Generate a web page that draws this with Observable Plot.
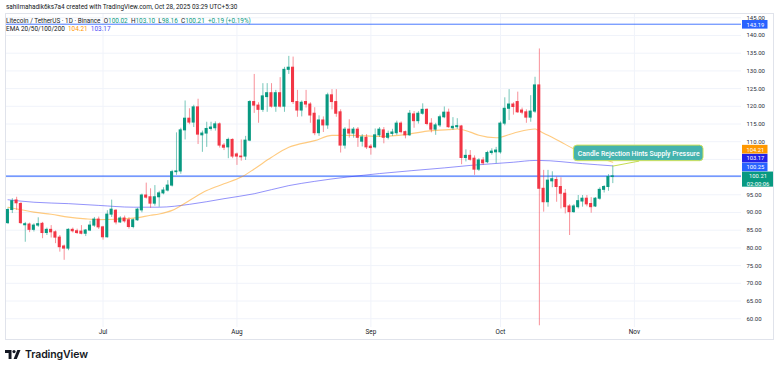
<!DOCTYPE html>
<html><head><meta charset="utf-8">
<script src="https://cdn.jsdelivr.net/npm/d3@7"></script>
<script src="https://cdn.jsdelivr.net/npm/@observablehq/plot@0.6"></script>
<style>
body{margin:0;background:#fff;}
#wrap{position:relative;width:780px;height:370px;overflow:hidden;font-family:Roboto,"Noto Sans",sans-serif;}
#wrap svg.plot{position:absolute;left:0;top:0;}
.t{position:absolute;white-space:pre;color:#131722;font-size:6.4px;line-height:1;}
#border{position:absolute;left:5px;top:13px;width:767px;height:325px;border:1px solid #e0e3eb;}
</style></head><body><div id="wrap"><div id="border"></div></div>
<script>
// ---------- data ----------
const startDate = "2025-06-09";
const open = [
 87.0, 90.7, 93.4, 92.4, 86.4, 86.6, 85.1, 86.3, 86.8, 84.2,
 85.1, 84.4, 82.9, 80.4, 79.8, 85.1, 84.7, 84.6, 84.0, 84.9,
 86.3, 88.0, 85.8, 83.0, 89.4, 90.5, 87.2, 88.3, 87.8, 85.9,
 87.8, 90.6, 94.8, 94.3, 92.5, 94.3, 95.4, 96.2, 97.6, 101.4,
 101.6, 113.2, 116.5, 115.4, 119.7, 111.8, 112.3, 113.6, 113.8, 114.9,
 108.9, 108.4, 110.5, 106.4, 105.8, 105.8, 110.3, 121.2, 120.2, 119.0,
 122.6, 123.7, 119.9, 123.7, 119.9, 130.3, 130.9, 121.2, 118.8, 121.2,
 120.5, 117.9, 112.4, 116.0, 114.6, 123.1, 121.2, 118.3, 108.9, 113.4,
 112.3, 113.4, 110.0, 111.1, 108.6, 108.4, 111.8, 113.2, 111.1, 112.2,
 112.4, 115.1, 112.7, 111.8, 117.7, 115.8, 117.9, 119.0, 115.1, 113.4,
 114.6, 116.9, 118.2, 113.8, 114.1, 114.3, 105.4, 106.0, 105.2, 102.1,
 104.7, 104.2, 106.8, 107.0, 107.0, 115.1, 119.3, 120.5, 121.2, 118.8,
 118.3, 116.8, 118.5, 125.9, 96.7, 92.9, 98.8, 99.2, 97.2, 95.3,
 91.7, 90.1, 91.5, 93.1, 93.9, 92.4, 91.7, 93.9, 96.4, 97.2,
 100.02];
const high = [
 91.2, 93.9, 94.3, 92.8, 87.2, 87.0, 86.8, 88.5, 87.2, 85.6,
 86.3, 84.8, 83.5, 80.8, 85.4, 85.6, 85.3, 86.3, 85.2, 87.5,
 88.6, 88.7, 86.1, 90.5, 93.5, 90.8, 88.8, 89.0, 88.5, 88.2,
 91.2, 95.2, 98.3, 96.7, 97.6, 96.0, 97.0, 99.0, 101.9, 112.5,
 113.8, 121.5, 119.3, 120.3, 122.0, 113.0, 115.5, 115.5, 115.6, 115.3,
 109.5, 111.0, 110.8, 106.8, 110.5, 111.5, 121.6, 129.0, 121.0, 126.4,
 126.4, 126.4, 124.5, 128.1, 131.0, 134.1, 133.9, 124.5, 121.5, 124.5,
 121.0, 119.6, 117.3, 117.0, 123.7, 124.7, 124.7, 119.0, 114.0, 116.2,
 114.0, 114.0, 112.0, 112.0, 109.2, 113.6, 114.0, 114.0, 113.0, 113.5,
 115.8, 115.6, 113.0, 118.8, 118.5, 118.5, 120.7, 119.3, 116.5, 115.2,
 117.5, 119.8, 119.2, 116.8, 116.5, 114.6, 107.7, 107.5, 106.0, 105.2,
 105.5, 107.3, 108.0, 108.4, 115.6, 122.4, 124.7, 121.0, 124.0, 119.5,
 119.0, 123.0, 128.2, 136.2, 101.9, 101.9, 101.5, 100.0, 99.8, 96.5,
 92.2, 92.2, 94.8, 94.8, 94.8, 94.2, 94.2, 97.0, 97.6, 100.7,
 103.10];
const low = [
 86.6, 89.7, 90.6, 86.6, 81.6, 84.3, 84.5, 85.8, 82.6, 83.5,
 82.8, 81.2, 78.8, 76.5, 79.2, 84.2, 83.8, 83.7, 83.2, 84.6,
 85.8, 85.2, 82.2, 82.8, 88.6, 86.5, 86.9, 87.0, 85.3, 85.4,
 87.5, 89.9, 93.8, 91.2, 91.8, 91.5, 95.0, 95.8, 97.2, 100.5,
 100.8, 110.5, 114.8, 114.0, 109.2, 107.0, 108.4, 113.0, 113.0, 108.2,
 107.5, 105.2, 105.2, 103.3, 104.5, 104.7, 110.0, 118.0, 115.2, 118.3,
 118.3, 119.5, 118.3, 119.5, 118.3, 129.0, 120.5, 116.9, 117.0, 119.5,
 115.2, 111.7, 111.5, 112.6, 113.5, 119.0, 116.9, 106.8, 107.9, 111.0,
 111.0, 108.4, 108.5, 107.8, 106.2, 108.0, 111.2, 109.4, 110.5, 111.5,
 111.8, 112.2, 110.8, 111.5, 113.8, 115.0, 117.5, 114.5, 112.5, 111.8,
 114.0, 116.5, 113.8, 113.2, 113.5, 103.5, 104.3, 104.5, 100.5, 101.6,
 103.3, 103.8, 106.2, 103.8, 106.5, 114.5, 116.0, 117.5, 118.0, 117.6,
 115.2, 115.5, 118.0, 58.0, 90.1, 91.5, 97.0, 92.9, 91.0, 89.6,
 83.5, 89.8, 91.0, 91.5, 91.6, 89.8, 91.4, 93.5, 95.5, 96.0,
 98.16];
const close = [
 90.7, 93.2, 92.6, 87.0, 86.7, 85.1, 86.3, 86.7, 84.2, 85.1,
 84.4, 82.9, 80.2, 79.8, 85.1, 84.7, 84.2, 84.0, 84.9, 86.3,
 88.0, 85.8, 83.0, 89.4, 90.8, 87.2, 88.3, 87.5, 85.9, 87.8,
 90.8, 94.8, 94.2, 92.5, 94.3, 95.4, 96.2, 97.6, 101.4, 101.6,
 113.2, 116.5, 115.4, 119.7, 112.0, 112.3, 113.6, 114.0, 114.9, 108.9,
 108.3, 110.5, 105.8, 105.8, 105.6, 110.3, 121.2, 120.2, 119.0, 122.8,
 123.7, 119.9, 123.7, 119.9, 130.3, 130.9, 121.2, 118.8, 121.0, 120.5,
 117.4, 112.4, 116.0, 114.6, 123.1, 121.2, 117.9, 108.9, 113.4, 112.3,
 113.4, 111.1, 111.2, 108.4, 108.2, 111.8, 113.4, 111.1, 112.2, 112.6,
 115.1, 112.7, 111.8, 117.9, 115.8, 117.9, 119.0, 115.0, 113.4, 114.6,
 116.9, 118.2, 114.1, 114.2, 114.4, 105.4, 106.0, 104.9, 102.1, 104.7,
 103.9, 106.8, 107.2, 107.5, 115.1, 119.3, 120.5, 119.8, 118.3, 118.2,
 116.8, 118.5, 125.9, 96.7, 92.9, 99.0, 99.4, 97.2, 95.3, 91.5,
 90.1, 91.7, 93.2, 93.9, 92.3, 91.5, 93.9, 96.4, 97.2, 100.02,
 100.21];

const emaFastDates = ["2025-06-09","2025-06-12","2025-06-15","2025-06-19","2025-06-23","2025-06-27","2025-06-30","2025-07-04","2025-07-08","2025-07-12","2025-07-14","2025-07-17","2025-07-21","2025-07-25","2025-07-29","2025-08-02","2025-08-05","2025-08-09","2025-08-13","2025-08-19","2025-08-23","2025-08-28","2025-09-03","2025-09-09","2025-09-14","2025-09-19","2025-09-21","2025-09-24","2025-09-26","2025-09-30","2025-10-04","2025-10-09","2025-10-10","2025-10-12","2025-10-15","2025-10-18","2025-10-22","2025-10-27"];
const emaFastValues = [91.5,90.8,90.1,89.5,88.7,88.2,88.0,88.1,88.4,89.2,89.6,90.6,93.4,96.2,98.1,100.0,102.3,105.6,108.4,110.3,111.8,111.8,111.5,112.0,113.0,113.4,113.6,112.7,111.8,111.1,112.4,113.6,113.0,111.8,109.9,108.0,106.3,104.21];
const emaSlowDates = ["2025-06-09","2025-06-15","2025-06-23","2025-06-30","2025-07-08","2025-07-14","2025-07-21","2025-07-29","2025-08-05","2025-08-13","2025-08-19","2025-09-03","2025-09-18","2025-09-24","2025-10-04","2025-10-09","2025-10-10","2025-10-20","2025-10-27"];
const emaSlowValues = [93.6,92.9,92.5,92.0,91.5,91.5,92.3,93.9,95.3,97.6,98.8,101.0,102.6,103.3,104.2,104.7,104.7,103.8,103.17];

const priceTicks = [60,65,70,75,80,85,90,95,100,105,110,115,120,125,130,135,140,145];
const monthTicks = ["2025-07-01","2025-08-01","2025-09-01","2025-10-01","2025-11-01"];
const monthLabels = ["Jul","Aug","Sep","Oct","Nov"];
const hLines = [143.19, 100.25];
const countdown = "02:00:06";
const annoText = "Candle Rejection Hints Supply Pressure";
const annoBox = {x1:"2025-10-18", x2:"2025-11-17", y1:104.5, y2:108.9, cx:"2025-11-02", cy:106.7};
const annoPointer = [{date:"2025-10-27", v:103.1},{date:"2025-11-02", v:104.5}];

// ---------- build ----------
const UP = "#089981", DOWN = "#f23645", ORANGE = "#ff9800", PURPLE = "#3b3bf5", BLUE = "#2962ff";
const d0 = new Date(startDate);
const dates = d3.utcDay.range(d0, d3.utcDay.offset(d0, open.length));
const candles = dates.map((d,i)=>({date:d,o:open[i],h:high[i],l:low[i],c:close[i],col: close[i]>=open[i]?UP:DOWN}));
const emaFast = emaFastDates.map((d,i)=>({date:new Date(d), v:emaFastValues[i]}));
const emaSlow = emaSlowDates.map((d,i)=>({date:new Date(d), v:emaSlowValues[i]}));
const months = monthTicks.map(d=>new Date(d));
const last = candles[candles.length-1];

const xs = d3.scaleUtc([dates[0], dates[dates.length-1]], [7.5, 612.3]);
const ys = d3.scaleLinear([60,145],[318.2,17.3]);

// price labels stacked from the bottom upward
const H = 8.6, FS = 5.8, GAP2 = 7.3;
const lbl = [
  {v:last.c, fill:UP, text:last.c.toFixed(2), two:true},
  {v:hLines[1], fill:BLUE, text:hLines[1].toFixed(2)},
  {v:emaSlowValues[emaSlowValues.length-1], fill:"#2323e8", text:emaSlowValues[emaSlowValues.length-1].toFixed(2)},
  {v:emaFastValues[emaFastValues.length-1], fill:ORANGE, text:emaFastValues[emaFastValues.length-1].toFixed(2)},
];
let prevTop = Infinity;
for (const L of lbl) {
  let cy = Math.min(ys(L.v), prevTop - H/2 - 0.3);
  L.cy = cy; L.top = cy - H/2; L.bot = L.two ? cy + H/2 + GAP2 - 0.8 : cy + H/2;
  prevTop = L.top;
}
lbl.push({v:hLines[0], fill:BLUE, text:hLines[0].toFixed(2), cy:ys(hLines[0])+0.6, top:ys(hLines[0])-H/2+0.6, bot:ys(hLines[0])+H/2+0.6});
// tick labels hidden behind a price label, as on the source chart
const shownTicks = priceTicks.filter(t => !lbl.some(L => ys(t) > L.top - 1 && ys(t) < L.bot + 1));
const lx1 = xs.invert(742), lx2 = xs.invert(767.5), lx2b = xs.invert(773), lxt = xs.invert(754.8), lxt2 = xs.invert(757.5);

const chart = Plot.plot({
  width: 780, height: 370,
  marginLeft: 5.5, marginRight: 39, marginTop: 13, marginBottom: 43,
  style: {background:"transparent", overflow:"visible", fontFamily:"Roboto, 'Noto Sans', sans-serif"},
  x: {type:"utc", domain: xs.domain(), range: xs.range(), axis: null},
  y: {type:"linear", domain: ys.domain(), range: ys.range(), axis: null},
  color: {type:"identity"},
  marks: [
    Plot.ruleY(priceTicks, {stroke:"#f0f3fa", strokeWidth:1}),
    Plot.ruleX(months, {stroke:"#f0f3fa", strokeWidth:1}),
    Plot.ruleY(hLines, {stroke:BLUE, strokeWidth:(d,i)=> i===0?1:1.3, strokeOpacity:0.85}),
    Plot.line(emaSlow, {x:"date", y:"v", stroke:PURPLE, strokeOpacity:0.55, strokeWidth:1, curve:"monotone-x"}),
    Plot.line(emaFast, {x:"date", y:"v", stroke:ORANGE, strokeOpacity:0.5, strokeWidth:1.1, curve:"monotone-x"}),
    Plot.ruleX(candles, {x:"date", y1:"l", y2:"h", stroke:"col", strokeOpacity:0.55, strokeWidth:1}),
    Plot.rect(candles, {x1:d=>d3.utcHour.offset(d.date,-8.5), x2:d=>d3.utcHour.offset(d.date,8.5), y1:"o", y2:"c", fill:"col", insetTop:-0.5, insetBottom:-0.5}),
    // annotation
    Plot.line(annoPointer, {x:d=>new Date(d.date), y:"v", stroke:"#c5dc4f", strokeWidth:1}),
    Plot.rect([annoBox], {x1:d=>new Date(d.x1), x2:d=>new Date(d.x2), y1:"y1", y2:"y2", fill:"#45b3ae", stroke:"#d2e35a", strokeWidth:1, rx:3.5}),
    Plot.text([annoBox], {x:d=>new Date(d.cx), y:"cy", text:()=>annoText, fill:"white", fontSize:6.9, fontWeight:500}),
    // axes
    Plot.text(shownTicks, {y:d=>d, text:d=>d.toFixed(2), frameAnchor:"right", dx:5, textAnchor:"start", fontSize:6.0, fill:"#2a2e39"}),
    Plot.text(months, {x:d=>d, text:(d,i)=>monthLabels[i], frameAnchor:"bottom", dy:6.5, fontSize:6.4, fill:"#131722"}),
    // price labels
    Plot.rect(lbl, {x1:()=>lx1, x2:d=>d.two?lx2b:lx2, y1:d=>ys.invert(d.top), y2:d=>ys.invert(d.bot), fill:"fill"}),
    Plot.text(lbl, {x:d=>d.two?lxt2:lxt, y:d=>ys.invert(d.cy), text:"text", fill:"white", fontSize:FS}),
    Plot.text(lbl.filter(d=>d.two), {x:()=>lxt2, y:d=>ys.invert(d.cy+GAP2), text:()=>countdown, fill:"white", fontSize:FS}),
  ]
});
const wrap = document.getElementById("wrap");
wrap.appendChild(chart);

// header & footer
const g = s=>`<span style="color:${UP}">${s}</span>`;
const prevC = close[close.length-2];
const chg = last.c - prevC;
const pct = chg / prevC * 100;
const hdr = [
  {top:3.6, html:"sahilmahadik6ks7a4 created with TradingView.com, Oct 28, 2025 03:29 UTC+5:30"},
  {top:18.4, html:`Litecoin / TetherUS · 1D · Binance  O${g(last.o.toFixed(2))}  H${g(last.h.toFixed(2))}  L${g(last.l.toFixed(2))}  C${g(last.c.toFixed(2))}  ${g((chg>=0?"+":"")+chg.toFixed(2)+" (+"+pct.toFixed(2)+"%)")}`},
  {top:26.2, html:`EMA 20/50/100/200  <span style="color:${ORANGE}">${emaFastValues[emaFastValues.length-1].toFixed(2)}</span>  <span style="color:#4b4bf5">${emaSlowValues[emaSlowValues.length-1].toFixed(2)}</span>`},
];
for (const h of hdr) {
  const el = document.createElement("div");
  el.className = "t"; el.style.left = "6px"; el.style.top = h.top+"px"; el.innerHTML = h.html;
  wrap.appendChild(el);
}
const foot = document.createElement("div");
foot.style.cssText = "position:absolute;left:5px;top:348px;display:flex;align-items:center;gap:4px;";
foot.innerHTML = `<svg width="16" height="9" viewBox="0 0 16 9"><path d="M0 0H6.5V9H3.6V3H0Z" fill="#131722"/><circle cx="9" cy="1.6" r="1.6" fill="#131722"/><path d="M12.3 0H15.5L11.8 9H8.6Z" fill="#131722"/></svg><span style="font-family:Inter,Roboto,sans-serif;font-weight:600;font-size:10.5px;color:#131722;letter-spacing:-0.1px">TradingView</span>`;
wrap.appendChild(foot);
</script>
</body></html>
